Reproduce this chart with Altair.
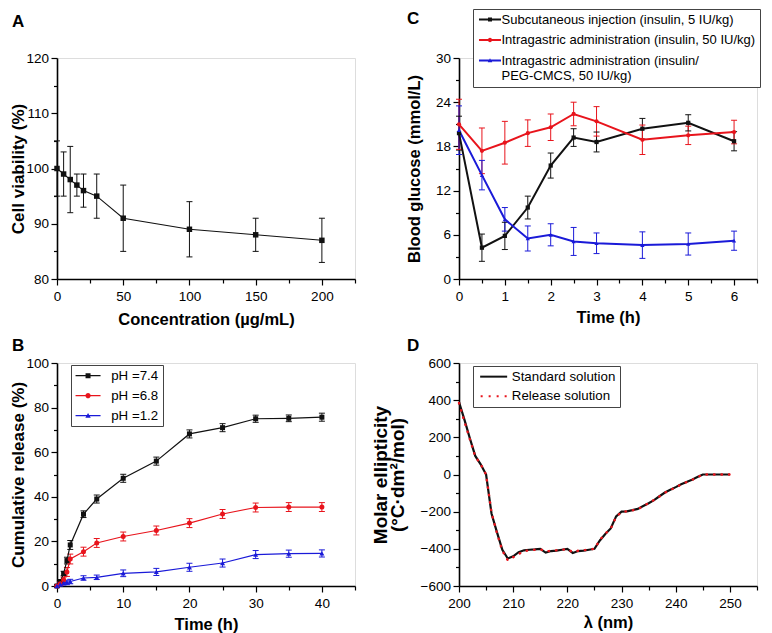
import altair as alt
import pandas as pd

FONT = "Liberation Sans"
BLACK = "#111111"
RED = "#e8141c"
BLUE = "#1a1ad8"

# ---------------- data ----------------
# A: cell viability
a_conc = [0, 5, 10, 15, 20, 30, 50, 100, 150, 200]
a_viability = [100, 99, 98, 97, 96, 95, 91, 89, 88, 87]
a_error = [5, 4, 6, 2, 3, 4, 6, 5, 3, 4]

# B: cumulative release
b_time = [0, 0.5, 1, 1.5, 2, 4, 6, 10, 15, 20, 25, 30, 35, 40]
b_series = ["pH =7.4", "pH =6.8", "pH =1.2"]
b_ph74 = [0, 2.0, 5.6, 11.4, 18.4, 32.2, 39.0, 48.3, 56.0, 68.2, 71.0, 75.0, 75.2, 75.7]
b_ph74_err = [0.5, 0.8, 1.0, 1.5, 2.0, 1.5, 1.8, 1.8, 1.8, 1.8, 1.8, 1.6, 1.5, 1.8]
b_ph68 = [0, 1.0, 2.8, 6.3, 12.1, 15.4, 19.3, 22.2, 24.9, 28.2, 32.3, 35.2, 35.4, 35.4]
b_ph68_err = [0.5, 0.8, 1.2, 2.0, 2.2, 2.0, 2.0, 2.0, 2.0, 2.0, 2.0, 2.0, 2.0, 2.0]
b_ph12 = [0, 0.8, 1.3, 1.6, 2.0, 3.6, 3.9, 5.7, 6.3, 8.4, 10.3, 14.1, 14.5, 14.6]
b_ph12_err = [0.5, 0.8, 0.8, 1.0, 1.0, 1.0, 1.0, 1.5, 1.6, 1.8, 1.8, 1.8, 1.6, 1.6]

# C: blood glucose
c_time = [0, 0.5, 1, 1.5, 2, 2.5, 3, 4, 5, 6]
c_series = [
    "Subcutaneous injection (insulin, 5 IU/kg)",
    "Intragastric administration (insulin, 50 IU/kg)",
    "Intragastric administration (insulin/PEG-CMCS, 50 IU/kg)",
]
c_sc = [19.8, 4.25, 5.85, 9.7, 15.4, 19.2, 18.6, 20.4, 21.2, 18.7]
c_sc_err = [2.3, 1.85, 1.85, 1.55, 1.7, 1.2, 1.35, 1.4, 1.1, 1.3]
c_ig = [21.0, 17.4, 18.5, 19.8, 20.6, 22.4, 21.4, 18.9, 19.5, 19.95]
c_ig_err = [3.4, 3.1, 2.9, 1.8, 1.8, 1.6, 2.0, 2.0, 1.25, 1.6]
c_igp = [20.2, 14.1, 8.1, 5.5, 6.0, 5.1, 4.85, 4.6, 4.75, 5.2]
c_igp_err = [3.3, 2.0, 1.6, 1.7, 1.5, 1.9, 1.4, 1.8, 1.5, 1.3]

# D: CD spectra
d_wavelength = list(range(200, 251))
d_series = ["Standard solution", "Release solution"]
d_standard = [390, 295, 195, 100, 55, 0, -210, -310, -405, -452,
              -440, -418, -408, -405, -403, -400, -420, -412, -410, -405,
              -400, -422, -412, -410, -405, -400, -355, -320, -290, -225,
              -200, -198, -192, -185, -170, -155, -138, -117, -97, -82,
              -68, -53, -40, -28, -14, 0, 0, 0, 0, 0, 0]
d_release = [385, 285, 190, 98, 55, 0, -205, -315, -410, -462,
             -445, -428, -412, -408, -405, -402, -415, -410, -408, -405,
             -402, -418, -410, -408, -404, -400, -352, -318, -292, -228,
             -202, -198, -193, -186, -171, -154, -137, -118, -98, -83,
             -69, -54, -41, -29, -15, 0, 0, 0, 0, 0, 0]


def long_df(x, series):
    rows = []
    for name, vals, errs in series:
        for xi, v, e in zip(x, vals, errs):
            rows.append({"x": xi, "y": v, "lo": v - e, "hi": v + e, "s": name})
    return pd.DataFrame(rows)


df_a = long_df(a_conc, [("Cell", a_viability, a_error)])
df_b = long_df(b_time, [(b_series[0], b_ph74, b_ph74_err),
                        (b_series[1], b_ph68, b_ph68_err),
                        (b_series[2], b_ph12, b_ph12_err)])
df_c = long_df(c_time, [(c_series[0], c_sc, c_sc_err),
                        (c_series[1], c_ig, c_ig_err),
                        (c_series[2], c_igp, c_igp_err)])
df_d = pd.DataFrame(
    [{"x": w, "y": v, "s": d_series[0]} for w, v in zip(d_wavelength, d_standard)]
    + [{"x": w, "y": v, "s": d_series[1]} for w, v in zip(d_wavelength, d_release)]
)

# ---------------- styling helpers ----------------
AX = dict(grid=False, domainColor="black", domainWidth=1.6, tickColor="black",
          tickWidth=1.2, labelFont=FONT, labelFontSize=13.5, labelColor="black",
          titleFont=FONT, titleFontWeight="bold", titleColor="black",
          labelOverlap=False, labelFlush=False, labelBound=False)


def major_x(vals, title, tp):
    return alt.Axis(values=vals, tickSize=6, labelPadding=4, title=title,
                    titleFontSize=16.5, titlePadding=tp, orient="bottom", **AX)


def minor_x(vals):
    return alt.Axis(values=vals, tickSize=4, labels=False, domain=False,
                    title=None, orient="bottom", **AX)


def major_y(vals, title, tfs, tp, ext):
    return alt.Axis(values=vals, tickSize=6, labelPadding=2.5, title=title,
                    titleFontSize=tfs, titlePadding=tp, titleLineHeight=17,
                    minExtent=ext, maxExtent=ext, orient="left", **AX)


def minor_y(vals):
    return alt.Axis(values=vals, tickSize=3.5, labels=False, domain=False,
                    title=None, orient="left", **AX)


def rect(x0, y0, x1, y1):
    return f"M{x0},{y0}H{x1}V{y1}H{x0}Z"


def legend(lx, ly, sym_off, lab_off, row_pad, fs, label_expr=None):
    kw = dict(orient="none", legendX=lx, legendY=ly, title=None,
              strokeColor="#444444", fillColor="white", padding=4,
              labelFont=FONT, labelFontSize=fs, labelColor="black",
              labelLimit=600, rowPadding=row_pad, symbolOffset=sym_off,
              labelOffset=lab_off, symbolSize=100, symbolStrokeWidth=0)
    if label_expr:
        kw["labelExpr"] = label_expr
    return alt.Legend(**kw)


def letter(txt, dx, dy):
    return alt.TitleParams(text=txt, anchor="start", frame="group", orient="top",
                           offset=0, dx=dx, dy=dy, fontSize=17, font=FONT,
                           fontWeight="bold", color="black")


def error_panel(df, names, colors, shapes, msize, lw, xdom, ydom, xmaj, xmin,
                ymaj, ymin, xtitle, ytitle, tfs, ytp, yext, xtp, leg_paths, leg):
    xs = alt.Scale(domain=xdom, nice=False, zero=False)
    ys = alt.Scale(domain=ydom, nice=False, zero=False)
    cs = alt.Scale(domain=names, range=colors)
    col = alt.Color("s:N", scale=cs, legend=None)
    base = alt.Chart(df)
    rules = base.mark_rule(strokeWidth=1, opacity=1).encode(
        x=alt.X("x:Q", scale=xs, axis=minor_x(xmin)),
        y=alt.Y("lo:Q", scale=ys, axis=minor_y(ymin)),
        y2="hi:Q", color=col)
    caps = []
    for f in ["lo", "hi"]:
        caps.append(base.mark_tick(orient="horizontal", size=6, thickness=1, opacity=1).encode(
            x=alt.X("x:Q", scale=xs, axis=None),
            y=alt.Y(f"{f}:Q", scale=ys, axis=None), color=col))
    lines = base.mark_line(strokeWidth=lw, opacity=1).encode(
        x=alt.X("x:Q", scale=xs, axis=None),
        y=alt.Y("y:Q", scale=ys, axis=None), color=col)
    points = base.mark_point(filled=True, opacity=1, size=msize).encode(
        x=alt.X("x:Q", scale=xs, axis=major_x(xmaj, xtitle, xtp)),
        y=alt.Y("y:Q", scale=ys, axis=major_y(ymaj, ytitle, tfs, ytp, yext)),
        color=col,
        shape=alt.Shape("s:N", scale=alt.Scale(domain=names, range=shapes), legend=None))
    layers = [rules] + caps + [lines, points]
    if leg is not None:
        leg_layer = base.transform_filter("false").mark_point(
            filled=True, opacity=1, size=100).encode(
            x=alt.X("x:Q", scale=xs, axis=None),
            y=alt.Y("y:Q", scale=ys, axis=None),
            color=alt.Color("s:N", scale=cs, legend=leg),
            shape=alt.Shape("s:N", scale=alt.Scale(domain=names, range=leg_paths), legend=leg))
        layers.append(leg_layer)
    return alt.layer(*layers).resolve_scale(
        color="independent", shape="independent").resolve_axis(
        x="independent", y="independent")


def sq(h):
    return rect(-h, -h, h, h)


def circ(r):
    return f"M0,{-r}A{r},{r} 0 1,1 0,{r}A{r},{r} 0 1,1 0,{-r}Z"


def tri(h):
    return f"M0,{-1.2 * h}L{1.2 * h},{0.9 * h}L{-1.2 * h},{0.9 * h}Z"


def leg_sym(half_len, half_th, marker):
    return rect(-half_len, -half_th, half_len, half_th) + " " + marker


# ---------------- panels ----------------
panel_a = error_panel(
    df_a, ["Cell"], [BLACK], ["square"], 30, 1.1,
    [0, 225], [80, 120], [0, 50, 100, 150, 200], [25, 75, 125, 175, 225],
    [80, 90, 100, 110, 120], [85, 95, 105, 115],
    "Concentration (\u00b5g/mL)", "Cell viability (%)", 17, 1, 29, 9, None, None,
).properties(width=298, height=221, title=letter("A", -45, -20))

c_expr = ("datum.label == '" + c_series[2] + "' ? "
          "['Intragastric administration (insulin/', 'PEG-CMCS, 50 IU/kg)'] : datum.label")
panel_c = error_panel(
    df_c, c_series, [BLACK, RED, BLUE], ["square", "circle", "triangle-up"], 18, 2,
    [0, 6.5], [0, 30], [0, 1, 2, 3, 4, 5, 6], [0.5, 1.5, 2.5, 3.5, 4.5, 5.5, 6.5],
    [0, 6, 12, 18, 24, 30], [3, 9, 15, 21, 27],
    "Time (h)", "Blood glucose (mmol/L)", 16.5, 13, 24, 7,
    [leg_sym(2.2, 0.2, sq(0.4)), leg_sym(2.2, 0.2, circ(0.44)), leg_sym(2.2, 0.2, tri(0.38))],
    legend(14, -49, 6.5, 5, 6.5, 13, c_expr),
).properties(width=298, height=221, title=letter("C", -52, 19.5))

panel_b = error_panel(
    df_b, b_series, [BLACK, RED, BLUE], ["square", "circle", "triangle-up"], 25, 1.2,
    [0, 45], [0, 100], [0, 10, 20, 30, 40], [5, 15, 25, 35, 45],
    [0, 20, 40, 60, 80, 100], [10, 30, 50, 70, 90],
    "Time (h)", "Cumulative release (%)", 17, 1, 29, 6.5,
    [leg_sym(2.5, 0.14, sq(0.5)), leg_sym(2.5, 0.14, circ(0.52)), leg_sym(2.5, 0.14, tri(0.45))],
    legend(14, 2, 6.4, 16.5, 6, 13.3),
).properties(width=298, height=223, title=letter("B", -45, -1.5))

# D panel
xs_d = alt.Scale(domain=[200, 255], nice=False, zero=False)
ys_d = alt.Scale(domain=[-600, 600], nice=False, zero=False)
base_d = alt.Chart(df_d)
d_solid = base_d.transform_filter(alt.datum.s == d_series[0]).mark_line(
    color=BLACK, strokeWidth=2.2).encode(
    x=alt.X("x:Q", scale=xs_d, axis=major_x([200, 210, 220, 230, 240, 250], "\u03bb (nm)", 5)),
    y=alt.Y("y:Q", scale=ys_d, axis=major_y([-600, -400, -200, 0, 200, 400, 600],
                                             ["Molar ellipticity", "(\u00b0C\u00b7dm\u00b2/mol)"],
                                             19, 12, 40)))
d_dot = base_d.transform_filter(alt.datum.s == d_series[1]).mark_line(
    color=RED, strokeWidth=2.4, strokeDash=[0.5, 7], strokeCap="round").encode(
    x=alt.X("x:Q", scale=xs_d, axis=minor_x([205, 215, 225, 235, 245, 255])),
    y=alt.Y("y:Q", scale=ys_d, axis=minor_y([-500, -300, -100, 100, 300, 500])))
dots = " ".join(rect(c - 0.2, -0.2, c + 0.2, 0.2) for c in [-2.4, -0.8, 0.8, 2.4])
d_leg_def = legend(14, 3, 10, 11.5, 5.5, 13.3)
d_leg = base_d.transform_filter("false").mark_point(filled=True, opacity=1, size=100).encode(
    x=alt.X("x:Q", scale=xs_d, axis=None),
    y=alt.Y("y:Q", scale=ys_d, axis=None),
    color=alt.Color("s:N", scale=alt.Scale(domain=d_series, range=[BLACK, RED]), legend=d_leg_def),
    shape=alt.Shape("s:N", scale=alt.Scale(domain=d_series,
                                           range=[rect(-2.7, -0.2, 2.7, 0.2), dots]),
                    legend=d_leg_def))
panel_d = alt.layer(d_solid, d_dot, d_leg).resolve_scale(
    color="independent", shape="independent").resolve_axis(
    x="independent", y="independent").properties(
    width=298, height=223, title=letter("D", -52, -1.5))

chart = alt.concat(panel_a, panel_c, panel_b, panel_d, columns=2,
                   spacing=alt.RowColnumber(row=84, column=104),
                   bounds="flush").properties(
    padding=0).configure_view(strokeWidth=0).configure(font=FONT)

chart.save("out.html", embed_options={"renderer": "svg", "actions": False})
